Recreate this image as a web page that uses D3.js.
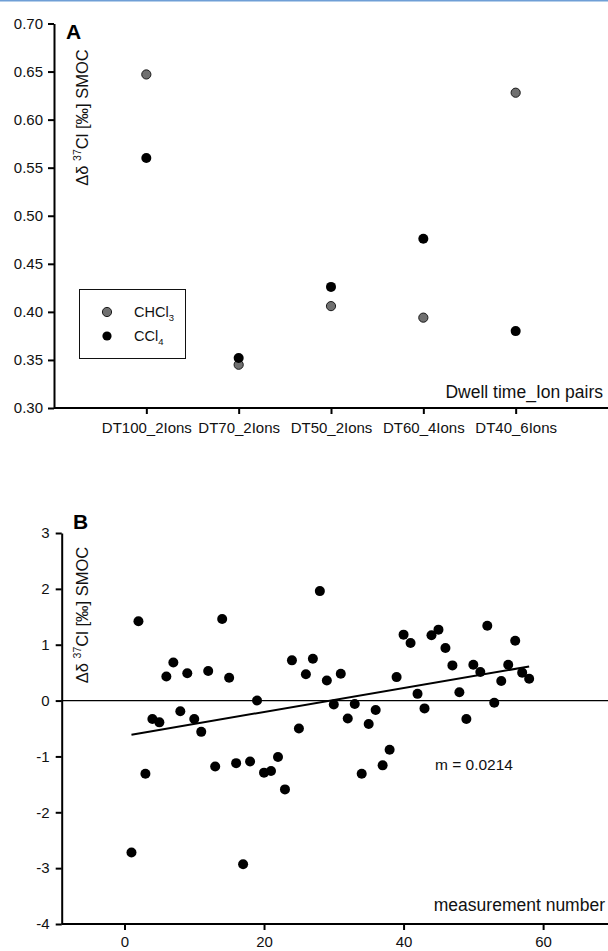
<!DOCTYPE html>
<html lang="en">
<head>
  <meta charset="UTF-8">
  <title>Chlorine isotope measurements</title>
  <script src="https://d3js.org/d3.v7.min.js"></script>
  <style>
    body { margin: 0; padding: 0; background: #fff; }
    svg { display: block; font-family: Arial, "Liberation Sans", sans-serif; }
    .axis path, .axis line { stroke: #000; stroke-width: 2; }
    .axis text { font-size: 15px; fill: #111; font-family: Arial, "Liberation Sans", sans-serif; }
  </style>
</head>
<body>
  <div id="chart"></div>

  <script>
    // Panel A
    const categories = ["DT100_2Ions", "DT70_2Ions", "DT50_2Ions", "DT60_4Ions", "DT40_6Ions"];
    const chcl3 = [0.647, 0.345, 0.406, 0.394, 0.628];
    const ccl4 = [0.560, 0.352, 0.426, 0.476, 0.380];
    const yTicksA = [0.30, 0.35, 0.40, 0.45, 0.50, 0.55, 0.60, 0.65, 0.70];

    // Panel B
    const measurement = [1, 2, 3, 4, 5, 6, 7, 8, 9, 10, 11, 12, 13, 14, 15, 16, 17, 18, 19, 20,
      21, 22, 23, 24, 25, 26, 27, 28, 29, 30, 31, 32, 33, 34, 35, 36, 37, 38, 39, 40,
      41, 42, 43, 44, 45, 46, 47, 48, 49, 50, 51, 52, 53, 54, 55, 56, 57, 58];
    const deltaB = [-2.72, 1.42, -1.31, -0.33, -0.39, 0.43, 0.68, -0.19, 0.49, -0.33,
      -0.56, 0.53, -1.18, 1.46, 0.41, -1.12, -2.93, -1.09, 0.00, -1.29,
      -1.26, -1.01, -1.59, 0.72, -0.50, 0.47, 0.75, 1.96, 0.36, -0.07,
      0.48, -0.32, -0.06, -1.31, -0.42, -0.17, -1.16, -0.88, 0.42, 1.18,
      1.03, 0.12, -0.14, 1.17, 1.27, 0.94, 0.63, 0.15, -0.33, 0.64,
      0.51, 1.34, -0.04, 0.35, 0.64, 1.07, 0.50, 0.39];
    const fitX = [1, 58];
    const fitY = [-0.61, 0.61];
    const xTicksB = [0, 20, 40, 60];
    const yTicksB = [-4, -3, -2, -1, 0, 1, 2, 3];
    const slopeLabel = "m = 0.0214";

    const W = 608, H = 951;
    const svg = d3.select("#chart").append("svg")
      .attr("width", W).attr("height", H);

    // thin blue rule along the top edge
    svg.append("line")
      .attr("x1", 0).attr("x2", W).attr("y1", 0.75).attr("y2", 0.75)
      .attr("stroke", "#6f9fd6").attr("stroke-width", 1.5);

    function yLabel(g, x, y) {
      const t = g.append("text")
        .attr("transform", `translate(${x},${y}) rotate(-90)`)
        .attr("text-anchor", "middle")
        .attr("font-size", 16.5)
        .attr("fill", "#111");
      t.append("tspan").text("\u0394\u03b4 ");
      t.append("tspan").attr("font-size", 10.5).attr("dy", -7).text("37");
      t.append("tspan").attr("dy", 7).text("Cl [\u2030] SMOC");
    }

    // ---------- Panel A ----------
    const xA = d3.scalePoint().domain(categories).range([54, 608]).padding(1);
    const yA = d3.scaleLinear().domain([0.30, 0.70]).range([408, 23.5]);

    const gA = svg.append("g");

    gA.append("g").attr("class", "axis")
      .attr("transform", `translate(0,${yA(0.30)})`)
      .call(d3.axisBottom(xA).tickSize(6).tickSizeOuter(0).tickPadding(8))
      .call(g => g.select(".domain").attr("d", `M${xA.range()[0]},0H${W}`));

    gA.append("g").attr("class", "axis")
      .attr("transform", `translate(${xA.range()[0]},0)`)
      .call(d3.axisLeft(yA).tickValues(yTicksA).tickFormat(d3.format(".2f")).tickSize(6).tickSizeOuter(0).tickPadding(5));

    gA.selectAll(".pt-chcl3").data(categories).join("circle")
      .attr("class", "pt-chcl3")
      .attr("cx", d => xA(d))
      .attr("cy", (d, i) => yA(chcl3[i]))
      .attr("r", 4.6)
      .attr("fill", "#707070").attr("stroke", "#1a1a1a").attr("stroke-width", 1);

    gA.selectAll(".pt-ccl4").data(categories).join("circle")
      .attr("class", "pt-ccl4")
      .attr("cx", d => xA(d))
      .attr("cy", (d, i) => yA(ccl4[i]))
      .attr("r", 5)
      .attr("fill", "#000");

    gA.append("text").attr("x", 66).attr("y", 39)
      .attr("font-size", 21).attr("font-weight", "bold").text("A");
    yLabel(gA, 88, 117.5);

    gA.append("text").attr("x", 603).attr("y", 398).attr("text-anchor", "end")
      .attr("font-size", 17.5).attr("fill", "#111").text("Dwell time_Ion pairs");

    // legend
    const leg = gA.append("g");
    leg.append("rect").attr("x", 79.5).attr("y", 289.5).attr("width", 106).attr("height", 69)
      .attr("fill", "none").attr("stroke", "#111").attr("stroke-width", 1);
    const legItems = [
      { name: "CHCl", sub: "3", fill: "#707070", stroke: "#1a1a1a" },
      { name: "CCl", sub: "4", fill: "#000", stroke: "none" }
    ];
    legItems.forEach((d, i) => {
      const yy = 312 + i * 24;
      leg.append("circle").attr("cx", 107).attr("cy", yy).attr("r", 4.6)
        .attr("fill", d.fill).attr("stroke", d.stroke);
      const t = leg.append("text").attr("x", 134).attr("y", yy + 5)
        .attr("font-size", 14.5).attr("fill", "#111");
      t.append("tspan").text(d.name);
      t.append("tspan").attr("font-size", 9.5).attr("dy", 4).text(d.sub);
    });

    // ---------- Panel B ----------
    const xB = d3.scaleLinear().domain([-9, 69.3]).range([61.7, 608]);
    const yB = d3.scaleLinear().domain([-4, 3]).range([924, 533]);

    const gB = svg.append("g");

    gB.append("g").attr("class", "axis")
      .attr("transform", `translate(0,${yB(-4)})`)
      .call(d3.axisBottom(xB).tickValues(xTicksB).tickFormat(d => String(d)).tickSize(6).tickSizeOuter(0).tickPadding(6))
      .call(g => g.select(".domain").attr("d", `M${xB.range()[0]},0H${W}`));

    gB.append("g").attr("class", "axis")
      .attr("transform", `translate(${xB.range()[0]},0)`)
      .call(d3.axisLeft(yB).tickValues(yTicksB).tickFormat(d => String(d)).tickSize(6).tickSizeOuter(0).tickPadding(6));

    // zero reference line
    gB.append("line")
      .attr("x1", xB.range()[0]).attr("x2", W)
      .attr("y1", yB(0)).attr("y2", yB(0))
      .attr("stroke", "#000").attr("stroke-width", 1.2);

    // fitted line
    gB.append("path")
      .datum(fitX.map((x, i) => [x, fitY[i]]))
      .attr("fill", "none").attr("stroke", "#000").attr("stroke-width", 2)
      .attr("d", d3.line().x(d => xB(d[0])).y(d => yB(d[1])));

    gB.selectAll(".pt-b").data(measurement).join("circle")
      .attr("class", "pt-b")
      .attr("cx", d => xB(d))
      .attr("cy", (d, i) => yB(deltaB[i]))
      .attr("r", 5)
      .attr("fill", "#000");

    gB.append("text").attr("x", xB(44.5)).attr("y", yB(-1.24))
      .attr("font-size", 15.5).attr("fill", "#111").text(slopeLabel);

    gB.append("text").attr("x", 73).attr("y", 529)
      .attr("font-size", 21).attr("font-weight", "bold").text("B");
    yLabel(gB, 88, 615);

    gB.append("text").attr("x", 605).attr("y", 911).attr("text-anchor", "end")
      .attr("font-size", 17.5).attr("fill", "#111").text("measurement number");
  </script>
</body>
</html>
